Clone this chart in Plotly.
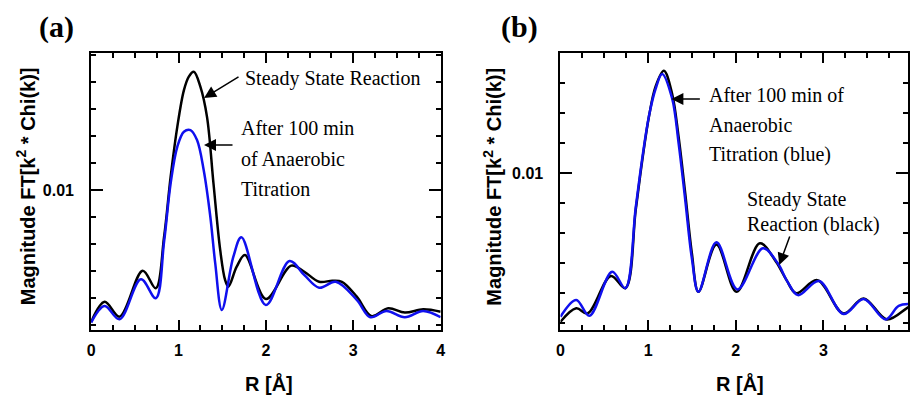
import plotly.graph_objects as go

# ---------------- data ----------------
# Panel (a)
r_a_black = [0, 0.155, 0.325, 0.59, 0.74, 0.835, 0.91, 0.986, 1.062, 1.118, 1.175, 1.25, 1.326, 1.40,
             1.477, 1.533, 1.57, 1.666, 1.76, 2.0, 2.29, 2.44, 2.61, 2.76, 2.87, 3.04, 3.21, 3.40,
             3.59, 3.80, 4.0]
ft_a_black = [0.00511, 0.00586, 0.00531, 0.00701, 0.00636, 0.00827, 0.01049, 0.01234, 0.01370, 0.01420,
              0.01438, 0.01383, 0.01271, 0.01025, 0.00778, 0.00667, 0.00642, 0.00716, 0.00759, 0.00596,
              0.00720, 0.00697, 0.00660, 0.00664, 0.00660, 0.00605, 0.00533, 0.00562, 0.00546, 0.00558,
              0.00549]
r_a_blue = [0, 0.155, 0.325, 0.57, 0.74, 0.835, 0.91, 0.986, 1.062, 1.137, 1.212, 1.288, 1.364, 1.42,
            1.496, 1.628, 1.72, 2.0, 2.27, 2.44, 2.61, 2.80, 3.04, 3.195, 3.38, 3.59, 3.80, 4.0]
ft_a_blue = [0.00509, 0.00570, 0.00521, 0.00669, 0.00599, 0.00809, 0.01025, 0.01160, 0.01216, 0.01222,
             0.01185, 0.01074, 0.00901, 0.00729, 0.00556, 0.00753, 0.00825, 0.00574, 0.00737, 0.00685,
             0.00638, 0.00660, 0.00593, 0.00529, 0.00552, 0.00529, 0.00552, 0.00529]

# Panel (b)
r_b_black = [0, 0.18, 0.31, 0.576, 0.74, 0.859, 0.934, 1.01, 1.085, 1.18, 1.273, 1.348, 1.424, 1.50,
             1.575, 1.78, 2.01, 2.275, 2.46, 2.58, 2.69, 2.93, 3.23, 3.46, 3.725, 3.95, 4.0]
ft_b_black = [0.00504, 0.00549, 0.00532, 0.00657, 0.00616, 0.00877, 0.01043, 0.01188, 0.01288, 0.01341,
              0.01266, 0.01121, 0.00932, 0.00732, 0.00604, 0.00762, 0.00604, 0.00766, 0.00704, 0.00643,
              0.00599, 0.00643, 0.00532, 0.00582, 0.00512, 0.00549, 0.00557]
r_b_blue = [0, 0.18, 0.33, 0.59, 0.74, 0.859, 0.934, 1.01, 1.085, 1.16, 1.273, 1.348, 1.424, 1.50,
            1.575, 1.78, 2.02, 2.31, 2.48, 2.59, 2.71, 2.95, 3.23, 3.46, 3.71, 3.86, 4.0]
ft_b_blue = [0.00521, 0.00577, 0.00524, 0.00671, 0.00616, 0.00885, 0.01050, 0.01190, 0.01280, 0.01330,
             0.01250, 0.01100, 0.00910, 0.00715, 0.00604, 0.00769, 0.00612, 0.00749, 0.00699, 0.00638,
             0.00593, 0.00640, 0.00530, 0.00580, 0.00512, 0.00557, 0.00563]

x_tick_vals = [0, 1, 2, 3, 4]
x_tick_text = ["0", "1", "2", "3", "4"]
y_tick_vals = [0.01]
y_tick_text = ["0.01"]

# ---------------- figure ----------------
W, H = 913, 395


def px(x):
    return x / W


def py(y):
    return (H - y) / H


fig = go.Figure()
BLACK = "#000000"
BLUE = "#1010ee"

fig.add_trace(go.Scatter(x=r_a_black, y=ft_a_black, mode="lines", line=dict(color=BLACK, width=2.5, shape="spline", smoothing=1.0), xaxis="x", yaxis="y", showlegend=False))
fig.add_trace(go.Scatter(x=r_a_blue, y=ft_a_blue, mode="lines", line=dict(color=BLUE, width=2.5, shape="spline", smoothing=1.0), xaxis="x", yaxis="y", showlegend=False))
fig.add_trace(go.Scatter(x=r_b_black, y=ft_b_black, mode="lines", line=dict(color=BLACK, width=2.5, shape="spline", smoothing=1.0), xaxis="x2", yaxis="y2", showlegend=False))
fig.add_trace(go.Scatter(x=r_b_blue, y=ft_b_blue, mode="lines", line=dict(color=BLUE, width=2.5, shape="spline", smoothing=1.0), xaxis="x2", yaxis="y2", showlegend=False))

tickfont = dict(family="Liberation Sans", size=16, color="black", weight="bold")

xcommon = dict(showgrid=False, zeroline=False, showline=True, linecolor="black", linewidth=2,
               mirror="ticks", ticks="inside", ticklen=10, tickwidth=1.5, tickcolor="black",
               tickmode="array", tickvals=x_tick_vals, ticktext=x_tick_text, tickfont=tickfont,
               ticklabelstandoff=5,
               minor=dict(ticks="inside", ticklen=5, tickwidth=1.5, tickcolor="black", dtick=0.25, tick0=0))
ycommon = dict(showgrid=False, zeroline=False, showline=True, linecolor="black", linewidth=2,
               mirror="ticks", ticks="inside", ticklen=12, tickwidth=1.5, tickcolor="black",
               tickmode="array", tickvals=y_tick_vals, ticktext=y_tick_text, tickfont=tickfont,
               ticklabelstandoff=12,
               minor=dict(ticks="inside", ticklen=5, tickwidth=1.5, tickcolor="black", dtick=0.001, tick0=0))

y_bot, y_top = 330, 53
fig.update_layout(
    width=W, height=H, margin=dict(l=0, r=0, t=0, b=0),
    paper_bgcolor="white", plot_bgcolor="white",
    xaxis=dict(domain=[px(88), px(441)], range=[0, 4], anchor="y", **xcommon),
    yaxis=dict(domain=[py(y_bot), py(y_top)], range=[0.004815, 0.015074], anchor="x", **ycommon),
    xaxis2=dict(domain=[px(562), 1.0], range=[0, (913 - 562) / 88.5], anchor="y2", **xcommon),
    yaxis2=dict(domain=[py(y_bot), py(y_top)], range=[0.004767, 0.014], anchor="x2", **ycommon),
)

ann = []
serif = dict(family="Liberation Serif", size=20, color="black")
title_font = dict(family="Liberation Sans", size=20, color="black", weight="bold")


def text(x, y, s, font=serif, xanchor="left"):
    ann.append(dict(x=px(x), y=py(y), xref="paper", yref="paper", text=s, showarrow=False,
                    xanchor=xanchor, yanchor="middle", font=font))


def arrow(xr, yr, xv, yv, ax, ay):
    ann.append(dict(x=xv, y=yv, xref=xr, yref=yr, text="", showarrow=True, ax=ax, ay=ay,
                    arrowhead=2, arrowsize=1.6, arrowwidth=1.5, arrowcolor="black"))


# panel labels
label_font = dict(family="Liberation Serif", size=30, color="black", weight="bold")
text(53, 27, "(a)", font=label_font, xanchor="center")
text(521, 27, "(b)", font=label_font, xanchor="center")

# axis titles
for xc in (22, 493):
    ann.append(dict(x=px(xc), y=py(186.5), xref="paper", yref="paper",
                    text="Magnitude FT[k<sup>2</sup> * Chi(k)]", showarrow=False, textangle=-90,
                    xanchor="center", yanchor="middle", font=title_font))
for xc in (268, 743):
    text(xc, 383, "R [Å]", font=title_font, xanchor="center")

# panel (a) annotations
text(241, 78, "Steady State Reaction")
text(237, 128, "After 100 min")
text(237, 159, "of Anaerobic")
text(237, 189, "Titration")
arrow("x", "y", (202 - 88) / 88.25, 0.01 + (190 - 98) / 27000, 36, -22)
arrow("x", "y", (202 - 88) / 88.25, 0.01 + (190 - 145) / 27000, 30, 0)

# panel (b) annotations
text(710, 95, "After 100 min of")
text(710, 125, "Anaerobic")
text(710, 154, "Titration (blue)")
text(748, 199, "Steady State")
text(748, 225, "Reaction (black)")
arrow("x2", "y2", (674 - 562) / 88.5, 0.01 + (173 - 99) / 30000, 30, 0)
arrow("x2", "y2", (783 - 562) / 88.5, 0.01 + (173 - 265) / 30000, 11, -30)

fig.update_layout(annotations=ann)
fig.write_html("out.html")
